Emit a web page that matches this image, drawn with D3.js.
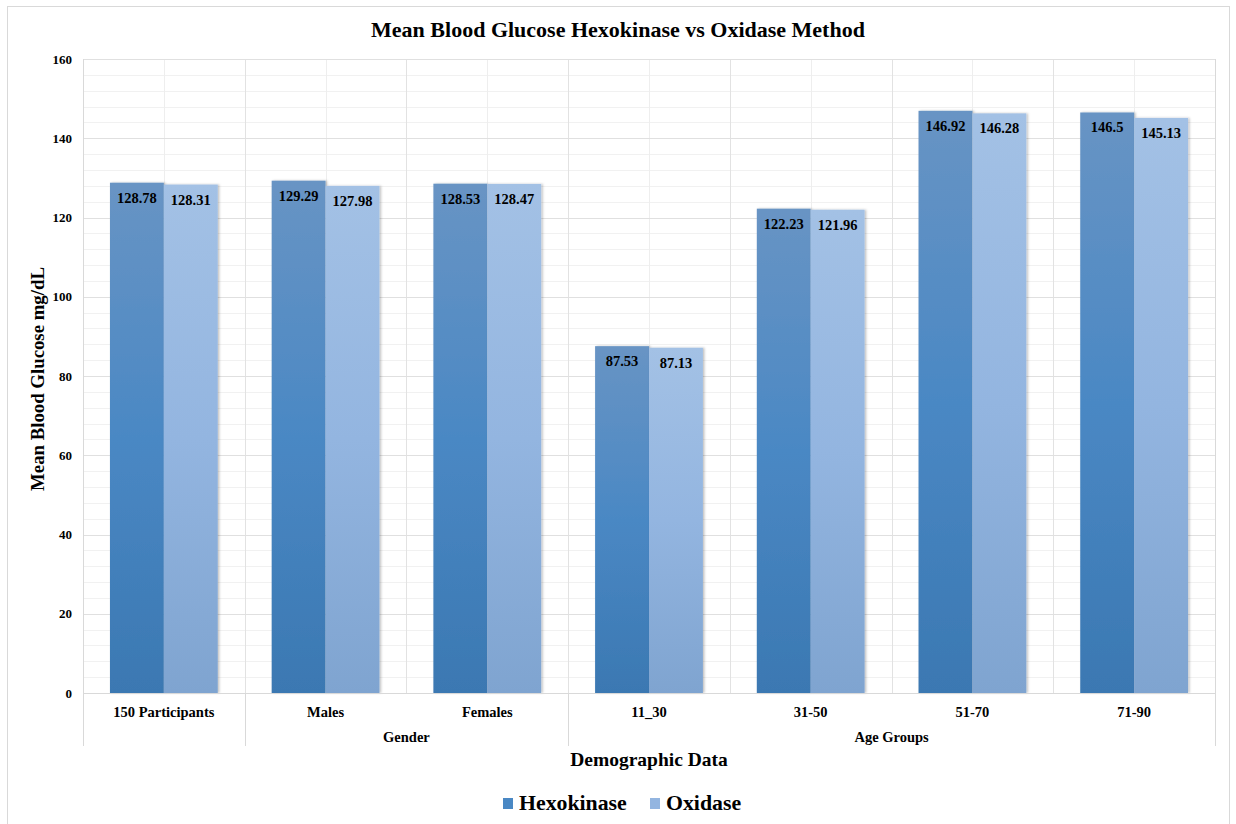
<!DOCTYPE html>
<html>
<head>
<meta charset="utf-8">
<script src="https://cdn.jsdelivr.net/npm/d3@7"></script>
<style>
  html, body { margin: 0; padding: 0; background: #ffffff; }
  svg { display: block; }
  text { font-family: "Liberation Serif", "Times New Roman", serif; font-weight: bold; fill: #000; }
</style>
</head>
<body>
<svg id="chart" width="1236" height="824"></svg>
<script>
const categories = ["150 Participants", "Males", "Females", "11_30", "31-50", "51-70", "71-90"];
const groupLabels = ["", "Gender", "Age Groups"];
const groupStart = [0, 1, 3];
const groupEnd = [1, 3, 7];
const seriesNames = ["Hexokinase", "Oxidase"];
const hexokinase = [128.78, 129.29, 128.53, 87.53, 122.23, 146.92, 146.5];
const oxidase = [128.31, 127.98, 128.47, 87.13, 121.96, 146.28, 145.13];
const yTicks = [0, 20, 40, 60, 80, 100, 120, 140, 160];
const titleText = "Mean Blood Glucose Hexokinase vs Oxidase Method";
const xTitle = "Demographic Data";
const yTitle = "Mean Blood Glucose mg/dL";

const svg = d3.select("#chart");
const L = 83, R = 1215, T = 59, B = 693;

// outer border
svg.append("rect").attr("x", 7.5).attr("y", 6.5).attr("width", 1222).attr("height", 840)
  .attr("fill", "none").attr("stroke", "#d9d9d9").attr("stroke-width", 1);

const x = d3.scaleBand().domain(categories).range([L, R]).paddingInner(0).paddingOuter(0);
const xs = d3.scaleBand().domain(seriesNames).range([0, x.bandwidth()]).paddingInner(0).paddingOuter(0.5);
const y = d3.scaleLinear().domain([0, 160]).range([B, T]);

const defs = svg.append("defs");
const g1 = defs.append("linearGradient").attr("id", "gHex").attr("x1", 0).attr("y1", 0).attr("x2", 0).attr("y2", 1);
g1.append("stop").attr("offset", "0%").attr("stop-color", "#6894c4");
g1.append("stop").attr("offset", "50%").attr("stop-color", "#4a88c4");
g1.append("stop").attr("offset", "100%").attr("stop-color", "#3b78b2");
const g2 = defs.append("linearGradient").attr("id", "gOx").attr("x1", 0).attr("y1", 0).attr("x2", 0).attr("y2", 1);
g2.append("stop").attr("offset", "0%").attr("stop-color", "#a3c1e5");
g2.append("stop").attr("offset", "50%").attr("stop-color", "#93b5e0");
g2.append("stop").attr("offset", "100%").attr("stop-color", "#7fa4d0");
const sh = defs.append("filter").attr("id", "shadow").attr("x", "-10%").attr("y", "-5%").attr("width", "130%").attr("height", "115%");
sh.append("feDropShadow").attr("dx", 1.5).attr("dy", 0).attr("stdDeviation", 1.2).attr("flood-color", "#000").attr("flood-opacity", 0.25);

// minor horizontal gridlines
const minor = d3.range(0, 161, 4).filter(v => v % 20 !== 0);
svg.append("g").selectAll("line").data(minor).join("line")
  .attr("x1", L).attr("x2", R).attr("y1", d => Math.round(y(d)) + 0.5).attr("y2", d => Math.round(y(d)) + 0.5)
  .attr("stroke", "#f1f1f1");
// vertical minor gridlines (category centres)
svg.append("g").selectAll("line").data(categories).join("line")
  .attr("x1", d => Math.round(x(d) + x.bandwidth() / 2) + 0.5).attr("x2", d => Math.round(x(d) + x.bandwidth() / 2) + 0.5)
  .attr("y1", T).attr("y2", B).attr("stroke", "#eeeeee");
// vertical category boundaries
svg.append("g").selectAll("line").data(categories.slice(1)).join("line")
  .attr("x1", d => Math.round(x(d)) + 0.5).attr("x2", d => Math.round(x(d)) + 0.5)
  .attr("y1", T).attr("y2", B).attr("stroke", "#e2e2e2");
// major horizontal gridlines
svg.append("g").selectAll("line").data(yTicks).join("line")
  .attr("x1", L).attr("x2", R).attr("y1", d => Math.round(y(d)) + 0.5).attr("y2", d => Math.round(y(d)) + 0.5)
  .attr("stroke", "#e0e0e0");

// y axis labels
const yAxis = d3.axisLeft(y).tickValues(yTicks).tickSize(0).tickPadding(11);
const ya = svg.append("g").attr("transform", `translate(${L},0)`).call(yAxis);
ya.select(".domain").remove();
ya.selectAll("text").attr("font-size", 13).attr("font-family", "Liberation Serif").attr("font-weight", "bold").attr("fill", "#000");

// bars
const rows = categories.map((c, i) => ({ c, vals: [hexokinase[i], oxidase[i]] }));
const cg = svg.append("g").selectAll("g").data(rows).join("g").attr("transform", d => `translate(${x(d.c)},0)`);
cg.selectAll("rect").data(d => d.vals.map((v, j) => ({ s: seriesNames[j], v }))).join("rect")
  .attr("x", d => xs(d.s)).attr("width", xs.bandwidth())
  .attr("y", d => y(d.v)).attr("height", d => B - y(d.v))
  .attr("fill", d => d.s === "Hexokinase" ? "url(#gHex)" : "url(#gOx)")
  .attr("filter", "url(#shadow)");
cg.selectAll("text").data(d => d.vals.map((v, j) => ({ s: seriesNames[j], v }))).join("text")
  .attr("x", d => xs(d.s) + xs.bandwidth() / 2).attr("y", d => y(d.v) + 20)
  .attr("text-anchor", "middle").attr("font-size", 14.5)
  .text(d => d.v);

// x axis line & frame
const axisG = svg.append("g");
axisG.append("line").attr("x1", L).attr("x2", R).attr("y1", B + 0.5).attr("y2", B + 0.5).attr("stroke", "#d9d9d9");
axisG.append("line").attr("x1", L + 0.5).attr("x2", L + 0.5).attr("y1", T).attr("y2", 746).attr("stroke", "#d9d9d9");
axisG.append("line").attr("x1", R + 0.5).attr("x2", R + 0.5).attr("y1", T).attr("y2", 746).attr("stroke", "#d9d9d9");
// group separators below axis
const seps = groupEnd.slice(0, -1).map(i => categories[i]);
axisG.selectAll("line.sep").data(seps).join("line").attr("class", "sep")
  .attr("x1", d => Math.round(x(d)) + 0.5).attr("x2", d => Math.round(x(d)) + 0.5)
  .attr("y1", B).attr("y2", 746).attr("stroke", "#d9d9d9");

// category labels
svg.append("g").selectAll("text").data(categories).join("text")
  .attr("x", d => x(d) + x.bandwidth() / 2).attr("y", 717)
  .attr("text-anchor", "middle").attr("font-size", 14.5).text(d => d);
// group labels
svg.append("g").selectAll("text").data(groupLabels).join("text")
  .attr("x", (d, i) => (x(categories[groupStart[i]]) + x(categories[groupEnd[i] - 1]) + x.bandwidth()) / 2)
  .attr("y", 742).attr("text-anchor", "middle").attr("font-size", 14.5).text(d => d);

// titles
svg.append("text").attr("x", 618).attr("y", 37).attr("text-anchor", "middle").attr("font-size", 22).text(titleText);
svg.append("text").attr("x", (L + R) / 2).attr("y", 766).attr("text-anchor", "middle").attr("font-size", 19.5).text(xTitle);
svg.append("text").attr("transform", `translate(44,${(T + B) / 2 + 3}) rotate(-90)`).attr("text-anchor", "middle").attr("font-size", 18.8).text(yTitle);

// legend
const legendColors = ["#4a88c4", "#93b5e0"];
const legendX = [503, 650];
const lg = svg.append("g").selectAll("g").data(seriesNames).join("g")
  .attr("transform", (d, i) => `translate(${legendX[i]},0)`);
lg.append("rect").attr("x", 0).attr("y", 798).attr("width", 10).attr("height", 11).attr("fill", (d, i) => legendColors[i]);
lg.append("text").attr("x", 16).attr("y", 810).attr("font-size", 21.8).text(d => d);
</script>
</body>
</html>
